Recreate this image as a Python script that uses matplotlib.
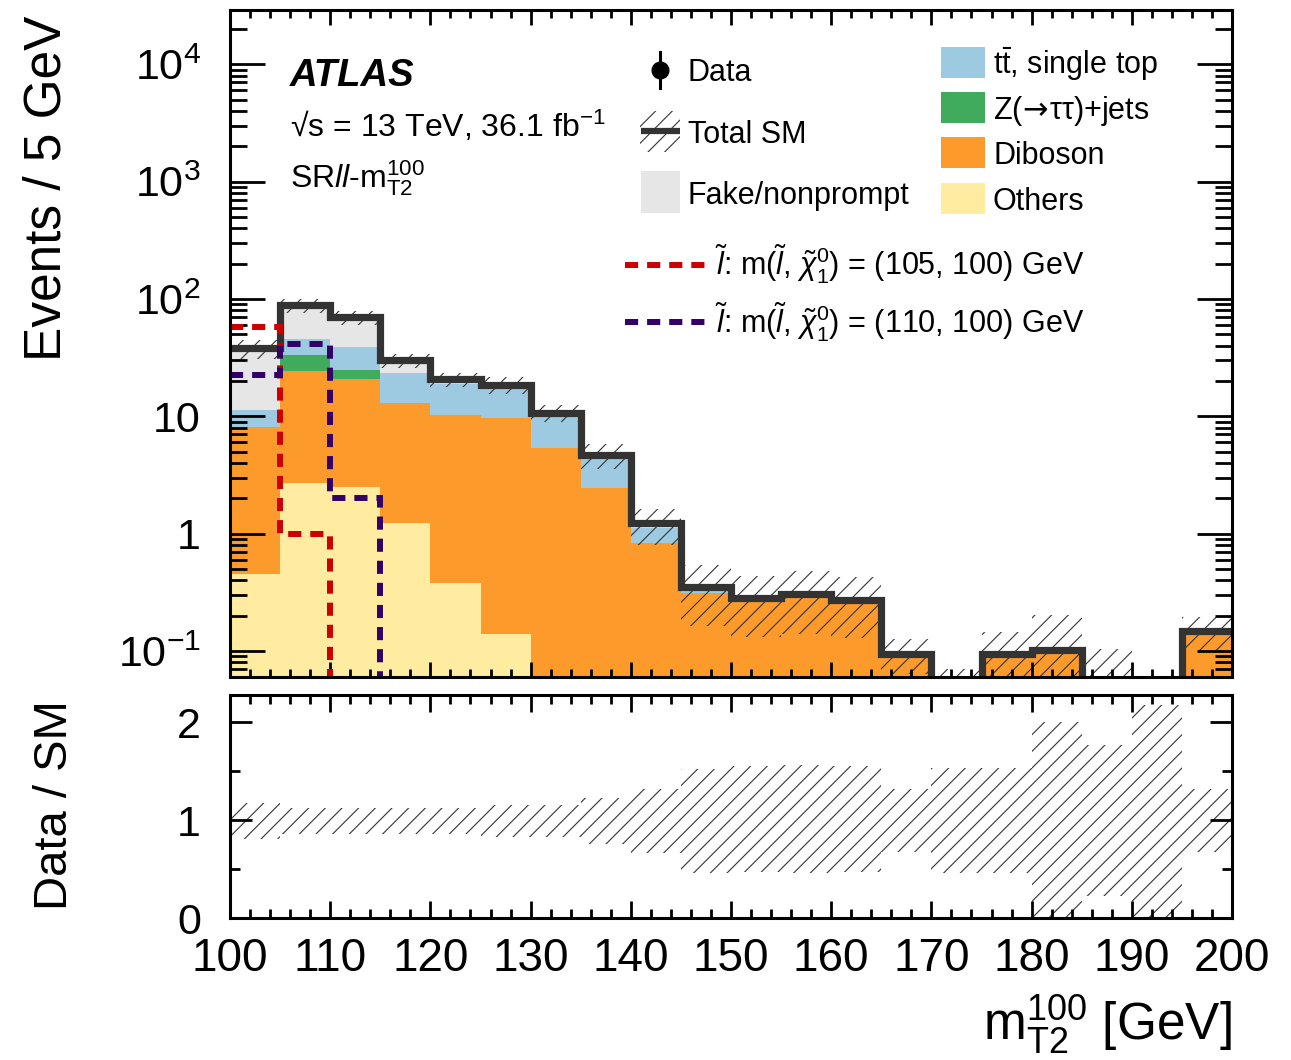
import numpy as np
import matplotlib
matplotlib.use("Agg")
import matplotlib.pyplot as plt
from matplotlib.patches import Rectangle
from matplotlib.lines import Line2D
from matplotlib.ticker import FixedLocator, FixedFormatter, LogLocator, NullFormatter, MultipleLocator

plt.rcParams['font.family'] = ['Liberation Sans', 'DejaVu Sans']
plt.rcParams['mathtext.fontset'] = 'custom'
plt.rcParams['mathtext.rm'] = 'Liberation Sans'
plt.rcParams['mathtext.it'] = 'Liberation Sans:italic'
plt.rcParams['mathtext.bf'] = 'Liberation Sans:bold'
plt.rcParams['mathtext.sf'] = 'DejaVu Sans'
plt.rcParams['hatch.linewidth'] = 0.8

W, H = 1291, 1060

# binning of mT2^100 (5 GeV bins)
bin_edges = np.arange(100, 205, 5)

# background components, events per bin (stack order bottom -> top)
others = [0.45, 2.7, 2.5, 1.23, 0.38, 0.14, 0, 0, 0, 0, 0, 0, 0, 0, 0, 0, 0, 0, 0, 0]
diboson = [7.65, 21.6, 18.3, 11.8, 9.9, 9.56, 5.4, 2.45, 0.83, 0.31,
           0.277, 0.306, 0.274, 0.095, 0, 0.094, 0.102, 0, 0, 0.148]
zjets = [0, 8.7, 4.2, 0, 0, 0, 0, 0, 0, 0, 0, 0, 0, 0, 0, 0, 0, 0, 0, 0]
ttbar = [3.2, 13.0, 14.0, 10.4, 8.7, 7.8, 5.1, 1.85, 0.29, 0.04,
         0.003, 0, 0, 0, 0, 0, 0, 0, 0, 0]
fake = [26.7, 43.0, 31.0, 6.6, 1.8, 1.1, 0.2, 0.4, 0.1, 0.004,
        0, 0, 0, 0, 0, 0, 0, 0, 0, 0]

# signal benchmarks
sig_105_100 = [58, 1.0, 0, 0, 0, 0, 0, 0, 0, 0, 0, 0, 0, 0, 0, 0, 0, 0, 0, 0]
sig_110_100 = [22.5, 41, 2.0, 0, 0, 0, 0, 0, 0, 0, 0, 0, 0, 0, 0, 0, 0, 0, 0, 0]

# uncertainty band on total SM, relative (as drawn in ratio panel)
ratio_hi = [1.18, 1.123, 1.123, 1.123, 1.123, 1.157, 1.157, 1.225, 1.32, 1.52,
            1.55, 1.56, 1.55, 1.32, 1.53, 1.53, 2.0, 1.77, 2.18, 1.32]
ratio_lo = [0.805, 0.86, 0.86, 0.86, 0.86, 0.83, 0.83, 0.757, 0.66, 0.46,
            0.47, 0.46, 0.47, 0.67, 0.46, 0.46, 0.0, 0.22, 0.0, 0.67]
# band height in main panel for bins without SM prediction
band_empty = [0, 0, 0, 0, 0, 0, 0, 0, 0, 0, 0, 0, 0, 0, 0.07, 0, 0, 0.103, 0, 0]

col_fake = '#e6e6e6'
col_ttbar = '#9ecae1'
col_z = '#41ab5d'
col_dib = '#fd9a2c'
col_oth = '#ffeca1'
col_sm = '#333333'
col_red = '#cc0000'
col_pur = '#330066'

fig = plt.figure(figsize=(W / 100, H / 100), dpi=100)
ax = fig.add_axes([230 / W, 1 - 677 / H, 1002 / W, 667 / H])
rax = fig.add_axes([230 / W, 1 - 918 / H, 1002 / W, 223 / H])

# stacked backgrounds
comps = [(others, col_oth), (diboson, col_dib), (zjets, col_z), (ttbar, col_ttbar), (fake, col_fake)]
base = np.zeros(len(others))
for vals, c in comps:
    top = base + np.array(vals)
    ax.stairs(top, bin_edges, baseline=base.copy(), fill=True, color=c, lw=0, zorder=1)
    base = top
total = base

band_up = np.where(total > 0, total * np.array(ratio_hi), band_empty)
band_dn = total * np.array(ratio_lo)
ax.stairs(band_up, bin_edges, baseline=band_dn, fill=True, facecolor='none',
          edgecolor=col_sm, lw=0, hatch='//', zorder=1.5)

tl = ax.stairs(total, bin_edges, baseline=None, color=col_sm, lw=5.2, zorder=2.2)
tl.set_joinstyle('miter')
ax.stairs(sig_105_100, bin_edges, baseline=None, color=col_red, lw=4.3,
          linestyle=(0, (2.2, 1.5)), zorder=2.3)
ax.stairs(sig_110_100, bin_edges, baseline=None, color=col_pur, lw=4.3,
          linestyle=(0, (2.2, 1.5)), zorder=2.3)

ax.set_yscale('log')
ax.set_xlim(100, 200)
ax.set_ylim(0.06, 2.9e4)
ax.yaxis.set_major_locator(FixedLocator([0.1, 1, 10, 100, 1e3, 1e4]))
ax.yaxis.set_major_formatter(FixedFormatter([r'$10^{-1}$', '1', '10', r'$10^{2}$', r'$10^{3}$', r'$10^{4}$']))
ax.yaxis.set_minor_locator(LogLocator(base=10, subs=np.arange(2, 10), numticks=20))
ax.yaxis.set_minor_formatter(NullFormatter())
ax.xaxis.set_major_locator(MultipleLocator(10))
ax.xaxis.set_minor_locator(MultipleLocator(2))
ax.tick_params(which='both', direction='in', top=True, right=True, labelbottom=False)
ax.tick_params(axis='y', which='major', length=25, width=2.0, pad=21, labelsize=31)
ax.tick_params(axis='y', which='minor', length=12, width=2.0)
ax.tick_params(axis='x', which='major', length=11, width=2.0)
ax.tick_params(axis='x', which='minor', length=6, width=2.0)
for s in ax.spines.values():
    s.set_linewidth(2.2)

# ratio panel
rax.stairs(ratio_hi, bin_edges, baseline=np.array(ratio_lo), fill=True, facecolor='none',
           edgecolor=col_sm, lw=0, hatch='//')
rax.set_xlim(100, 200)
rax.set_ylim(0, 2.28)
rax.yaxis.set_major_locator(FixedLocator([0, 1, 2]))
rax.yaxis.set_minor_locator(FixedLocator([0.5, 1.5]))
rax.xaxis.set_major_locator(MultipleLocator(10))
rax.xaxis.set_minor_locator(MultipleLocator(2))
rax.tick_params(which='both', direction='in', top=True, right=True)
rax.tick_params(axis='y', which='major', length=16, width=2.0, pad=21, labelsize=31)
rax.tick_params(axis='y', which='minor', length=7, width=2.0)
rax.tick_params(axis='x', which='major', length=12, width=2.0, pad=14, labelsize=33)
rax.tick_params(axis='x', which='minor', length=6.5, width=2.0)
for s in rax.spines.values():
    s.set_linewidth(2.2)

# axis titles
fig.text(47 / W, 1 - 188 / H, 'Events / 5 GeV', rotation=90, ha='center', va='center', fontsize=37)
fig.text(55 / W, 1 - 805 / H, 'Data / SM', rotation=90, ha='center', va='center', fontsize=34)
fig.text(1232 / W, 1 - 1040 / H, r'm$_{\mathrm{T2}}^{100}$ [GeV]', ha='right', va='baseline', fontsize=37)

# ATLAS labels
fig.text(290 / W, 1 - 86 / H, 'ATLAS', fontsize=27.5, fontweight='bold', fontstyle='italic', va='baseline')
fig.text(290 / W, 1 - 137 / H, '√s = 13 TeV, 36.1 fb$^{-1}$', fontsize=23, va='baseline')
fig.text(290 / W, 1 - 187 / H, r'SR$\mathit{ll}$-m$_{\mathrm{T2}}^{100}$', fontsize=23, va='baseline')


def fbox(x0, y0, x1, y1, **kw):
    fig.add_artist(Rectangle((x0 / W, 1 - y1 / H), (x1 - x0) / W, (y1 - y0) / H,
                             transform=fig.transFigure, **kw))


def fline(xs, ys, **kw):
    fig.add_artist(Line2D([x / W for x in xs], [1 - y / H for y in ys],
                          transform=fig.transFigure, **kw))


def flabel(x, y, s, size=22):
    fig.text(x / W, 1 - y / H, s, ha='left', va='baseline', fontsize=size)


# legend column 1
fline([660, 660], [52, 88], color='k', lw=2.2)
fline([660], [70], marker='o', ms=12, color='k', lw=0)
flabel(688, 81, 'Data')
fbox(640, 111, 680, 152, facecolor='none', edgecolor=col_sm, lw=0, hatch='//')
fline([641, 680], [131, 131], color=col_sm, lw=4.5, solid_capstyle='butt')
flabel(688, 143, 'Total SM')
fbox(641, 171, 680, 213, facecolor=col_fake, lw=0)
flabel(688, 204, 'Fake/nonprompt')

# legend column 2
leg2 = [(col_ttbar, r'$\mathrm{t}\bar{\mathrm{t}}$, single top', 47),
        (col_z, r'Z($\!\mathsf{\rightarrow}\!$ττ)+jets', 92),
        (col_dib, 'Diboson', 137),
        (col_oth, 'Others', 183)]
for c, lab, y0 in leg2:
    fbox(941, y0, 985, y0 + 31, facecolor=c, lw=0)
    flabel(993, y0 + 27, lab)

# signal legend
sig_leg = [(col_red, r'$\tilde{l}$: m($\tilde{l}$, $\tilde{\chi}_{1}^{0}$) = (105, 100) GeV', 265),
           (col_pur, r'$\tilde{l}$: m($\tilde{l}$, $\tilde{\chi}_{1}^{0}$) = (110, 100) GeV', 322)]
for c, lab, yc in sig_leg:
    fline([625, 705], [yc, yc], color=c, lw=4.3, linestyle=(0, (2.2, 1.5)))
    flabel(715, yc + 11, lab)

fig.savefig('out.png', dpi=100)
